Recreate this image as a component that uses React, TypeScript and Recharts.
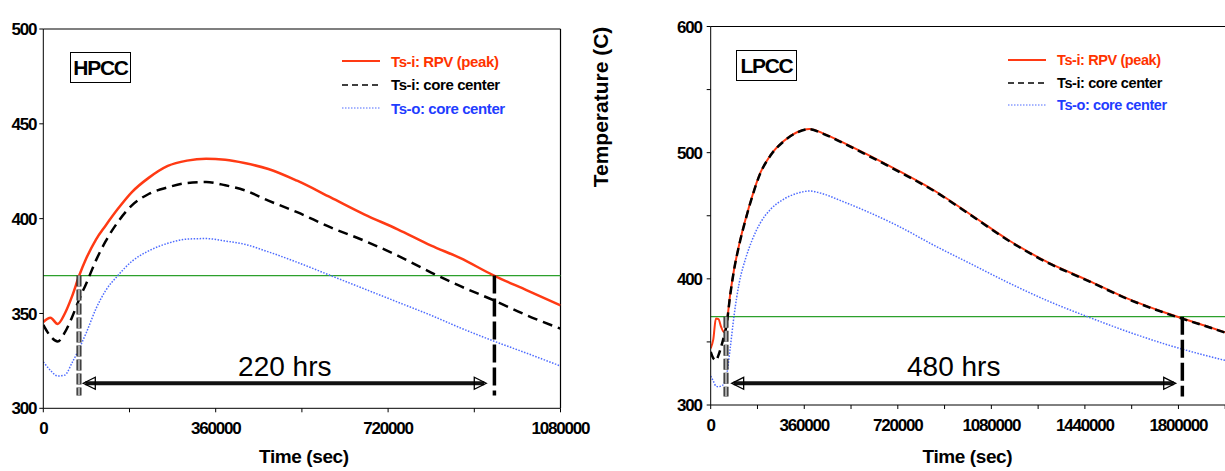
import { Label, Legend, Line, LineChart, ReferenceLine, XAxis, YAxis } from "recharts";

const FONT = "'Liberation Sans', Arial, sans-serif";

// HPCC case (left)
const hpccTime = [0, 15000, 30000, 45000, 60000, 75000, 90000, 110000, 130000, 155000, 185000, 220000, 260000, 300000, 340000, 380000, 420000, 470000, 530000, 600000, 670000, 740000, 810000, 870000, 940000, 1010000, 1080000];
const hpccRpvPeak = [345.5, 347.7, 344.5, 350, 359, 370, 379.2, 389, 396.3, 404.9, 414, 421.5, 427.8, 430.6, 431.6, 431, 429.3, 426.2, 420, 411.2, 402.3, 394.4, 385.8, 379.3, 370.1, 362.2, 354.3];
const hpccCoreIn = [344, 338, 335.2, 340, 348, 357.5, 366, 378, 388, 398, 407, 413, 416.5, 418.8, 419.3, 417.6, 415, 409.5, 403.4, 395.4, 388.4, 380.5, 371.6, 364.5, 357, 349, 342];
const hpccCoreOut = [324.5, 320, 317, 317.5, 324, 331.5, 340, 352.5, 362, 369.8, 377.5, 383, 387, 389.2, 389.5, 388.2, 386.5, 382.5, 377, 370, 363, 356, 349, 342.5, 335.5, 329, 322.3];
const hpccTimeTicks = [0, 180000, 360000, 540000, 720000, 900000, 1080000];
const hpccTempTicks = [300, 350, 400, 450, 500];
const hpccSpan = [74500, 942000];
const hpccArrow = [83500, 925000];
const hpccArrowTemp = 313.2;

// LPCC case (right)
const lpccTime = [0, 10000, 20000, 30000, 40000, 50000, 60000, 75000, 90000, 110000, 135000, 160000, 190000, 230000, 280000, 330000, 380000, 430000, 500000, 600000, 720000, 860000, 1000000, 1150000, 1300000, 1450000, 1600000, 1750000, 1900000, 2000000];
const lpccRpvPeak = [345, 352, 368.5, 368, 362, 358, 363, 387.6, 407.6, 427.6, 447.9, 465.7, 483.5, 498, 509.1, 516, 518.8, 515.5, 509, 498.8, 485.9, 470, 451, 430.2, 412.8, 399, 384.7, 373.1, 363, 356.2];
const lpccCoreIn = [342, 337, 335.5, 339.5, 346, 353.5, 362, 387, 407.2, 427.2, 447.5, 465.3, 483.2, 497.7, 508.8, 515.8, 518.6, 515.2, 508.6, 498.3, 485.4, 469.6, 450.6, 429.8, 412.4, 398.6, 384.4, 372.8, 362.8, 356];
const lpccCoreOut = [323, 319, 315, 314.5, 315, 316.5, 322, 345, 371, 397, 416.5, 431, 444, 455, 463, 467.6, 469.6, 467.5, 462, 453.5, 442, 426.5, 412, 396.5, 382.3, 370, 358.5, 348.2, 339.5, 334.3];
const lpccTimeTicks = [0, 180000, 360000, 540000, 720000, 900000, 1080000, 1260000, 1440000, 1620000, 1800000, 1980000];
const lpccTempTicks = [300, 350, 400, 450, 500, 550, 600];
const lpccSpan = [58900, 1815000];
const lpccArrow = [80700, 1789500];
const lpccArrowTemp = 317.2;

const limitTemp = 370;
const spanBottom = 306.7;
const seriesNames = ["Ts-i: RPV (peak)", "Ts-i: core center", "Ts-o: core center"];

const styles: Record<string, { stroke: string; text: string; dash?: string; legendDash?: string; legendWidth: number }> = {
  rpv: { stroke: "#ff3a14", text: "#ff3300", legendWidth: 2 },
  coreIn: { stroke: "#000", text: "#000", dash: "10 6", legendDash: "6 4", legendWidth: 1.5 },
  coreOut: { stroke: "#4d6bff", text: "#1f3dff", dash: "1.5 1.5", legendDash: "1.5 1.5", legendWidth: 1 },
};

const toRows = (time: number[], a: number[], b: number[], c: number[]) =>
  time.map((t, i) => ({ t, rpv: a[i], coreIn: b[i], coreOut: c[i] }));

const tickStyle = { fontSize: 17, fontWeight: 700, fill: "#000", fontFamily: FONT, letterSpacing: -1.2 };

const arrowShape = (text: string) => (p: any) => {
  const { x1, y1, x2 } = p;
  const h = 12;
  const w = 6;
  return (
    <g>
      <line x1={x1 + 2} y1={y1} x2={x2 - 2} y2={y1} stroke="#111" strokeWidth={4} />
      <polygon points={`${x1},${y1} ${x1 + h},${y1 - w} ${x1 + h},${y1 + w}`} fill="none" stroke="#000" strokeWidth={1.3} />
      <polygon points={`${x2},${y1} ${x2 - h},${y1 - w} ${x2 - h},${y1 + w}`} fill="none" stroke="#000" strokeWidth={1.3} />
      <text x={(x1 + x2) / 2} y={y1 - 7} textAnchor="middle" fontSize={28} fontFamily={FONT} fill="#000">
        {text}
      </text>
    </g>
  );
};

type PanelProps = {
  data: ReturnType<typeof toRows>;
  width: number;
  margin: { top: number; right: number; bottom: number; left: number };
  xMax: number;
  xTicks: number[];
  yMin: number;
  yMax: number;
  yTicks: number[];
  yStep: number;
  yTickMargin: number;
  span: number[];
  arrow: number[];
  arrowTemp: number;
  hours: string;
  legend: { left: number; top: number; rowH: number; font: number };
  titleDx: number;
  yTitle?: string;
  dash: string;
  redWidth: number;
};

function Panel(p: PanelProps) {
  const legendContent = (lp: any) => (
    <div style={{ fontFamily: FONT }}>
      {(lp.payload || []).map((e: any) => {
        const s = styles[e.dataKey];
        return (
          <div key={e.dataKey} style={{ display: "flex", alignItems: "center", height: p.legend.rowH }}>
            <svg width={38} height={10}>
              <line x1={0} y1={5} x2={38} y2={5} stroke={s.stroke} strokeWidth={s.legendWidth} strokeDasharray={s.legendDash} />
            </svg>
            <span style={{ marginLeft: 11, fontSize: p.legend.font, fontWeight: 700, color: s.text, letterSpacing: -0.4, whiteSpace: "nowrap" }}>
              {e.value}
            </span>
          </div>
        );
      })}
    </div>
  );

  return (
    <LineChart width={p.width} height={471} data={p.data} margin={p.margin}>
      <XAxis
        dataKey="t"
        type="number"
        domain={[0, p.xMax]}
        ticks={p.xTicks}
        allowDataOverflow
        tickFormatter={(v: number) => (v % 360000 === 0 ? String(v) : "")}
        tick={tickStyle}
        tickSize={4}
        tickMargin={10}
        height={30}
        stroke="#000"
      >
        <Label
          content={(lp: any) => (
            <text
              x={lp.viewBox.x + lp.viewBox.width / 2 + p.titleDx}
              y={463}
              textAnchor="middle"
              fontSize={19}
              fontWeight={700}
              fontFamily={FONT}
              letterSpacing={-0.4}
              fill="#000"
            >
              Time (sec)
            </text>
          )}
        />
      </XAxis>
      <YAxis
        type="number"
        domain={[p.yMin, p.yMax]}
        ticks={p.yTicks}
        allowDataOverflow
        tickFormatter={(v: number) => (v % p.yStep === 0 ? String(v) : "")}
        tick={tickStyle}
        tickSize={4}
        tickMargin={p.yTickMargin}
        width={40}
        stroke="#000"
      >
        {p.yTitle && (
          <Label
            content={(lp: any) => (
              <text
                transform={`translate(${lp.viewBox.x - 70.7},107) rotate(-90)`}
                textAnchor="middle"
                dominantBaseline="central"
                fontSize={21}
                fontWeight={700}
                fontFamily={FONT}
                fill="#000"
              >
                {p.yTitle}
              </text>
            )}
          />
        )}
      </YAxis>
      <ReferenceLine y={p.yMax} stroke="#000" strokeWidth={1.2} />
      <ReferenceLine x={p.xMax} stroke="#000" strokeWidth={1.2} />
      <ReferenceLine y={limitTemp} stroke="#2ca02c" strokeWidth={1.2} />
      <Legend
        layout="vertical"
        align="center"
        verticalAlign="middle"
        wrapperStyle={{ left: p.legend.left, top: p.legend.top, width: 240 }}
        content={legendContent}
      />
      <Line dataKey="rpv" name={seriesNames[0]} type="monotone" stroke={styles.rpv.stroke} strokeWidth={p.redWidth} dot={false} activeDot={false} isAnimationActive={false} />
      <Line dataKey="coreIn" name={seriesNames[1]} type="monotone" stroke={styles.coreIn.stroke} strokeWidth={2.5} strokeDasharray={p.dash} dot={false} activeDot={false} isAnimationActive={false} />
      <Line dataKey="coreOut" name={seriesNames[2]} type="monotone" stroke={styles.coreOut.stroke} strokeWidth={1.5} strokeDasharray={styles.coreOut.dash} dot={false} activeDot={false} isAnimationActive={false} />
      <ReferenceLine segment={[{ x: p.span[0], y: limitTemp }, { x: p.span[0], y: spanBottom }]} stroke="#222" strokeWidth={5} strokeDasharray="11 3" />
      <ReferenceLine segment={[{ x: p.span[0], y: limitTemp }, { x: p.span[0], y: spanBottom }]} stroke="#a8a8a8" strokeWidth={2.5} strokeDasharray="11 3" />
      <ReferenceLine segment={[{ x: p.span[1], y: limitTemp }, { x: p.span[1], y: spanBottom }]} stroke="#000" strokeWidth={3.5} strokeDasharray="18 5" />
      <ReferenceLine
        segment={[{ x: p.arrow[0], y: p.arrowTemp }, { x: p.arrow[1], y: p.arrowTemp }]}
        shape={arrowShape(p.hours)}
      />
    </LineChart>
  );
}

const boxStyle = (left: number, top: number): React.CSSProperties => ({
  position: "absolute",
  left,
  top,
  width: 59,
  height: 29,
  border: "1px solid #000",
  display: "flex",
  alignItems: "center",
  justifyContent: "center",
  fontFamily: FONT,
  fontWeight: 700,
  fontSize: 21,
  letterSpacing: -1.3,
  background: "#fff",
});

export default function App() {
  const hpcc = toRows(hpccTime, hpccRpvPeak, hpccCoreIn, hpccCoreOut);
  const lpcc = toRows(lpccTime, lpccRpvPeak, lpccCoreIn, lpccCoreOut);
  return (
    <div style={{ position: "fixed", left: 0, top: 0, width: 1225, height: 471, overflow: "hidden", background: "#fff", fontFamily: FONT }}>
      <div style={{ position: "absolute", left: 0, top: 0 }}>
        <Panel
          data={hpcc}
          width={600}
          margin={{ top: 29, right: 39.5, bottom: 32.7, left: 3.3 }}
          xMax={1080000}
          xTicks={hpccTimeTicks}
          yMin={300}
          yMax={500}
          yTicks={hpccTempTicks}
          yStep={50}
          yTickMargin={3}
          span={hpccSpan}
          arrow={hpccArrow}
          arrowTemp={hpccArrowTemp}
          hours="220 hrs"
          legend={{ left: 342, top: 49.25, rowH: 23.5, font: 15 }}
          titleDx={2}
          dash="10 6"
          redWidth={2.5}
        />
      </div>
      <div style={{ position: "absolute", left: 560, top: 0 }}>
        <Panel
          data={lpcc}
          width={760}
          margin={{ top: 26.5, right: 48, bottom: 36, left: 110.7 }}
          xMax={2160000}
          xTicks={lpccTimeTicks}
          yMin={300}
          yMax={600}
          yTicks={lpccTempTicks}
          yStep={100}
          yTickMargin={5}
          span={lpccSpan}
          arrow={lpccArrow}
          arrowTemp={lpccArrowTemp}
          hours="480 hrs"
          legend={{ left: 448, top: 48.75, rowH: 22.5, font: 14.5 }}
          titleDx={-24}
          yTitle="Temperature  (C)"
          dash="8 5"
          redWidth={2}
        />
      </div>
      <div style={boxStyle(70, 52)}>HPCC</div>
      <div style={boxStyle(736, 50)}>LPCC</div>
    </div>
  );
}
